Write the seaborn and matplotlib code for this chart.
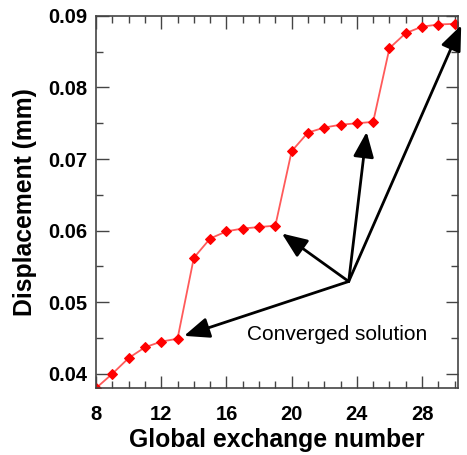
import numpy as np
import pandas as pd
import matplotlib
matplotlib.use("Agg")
import matplotlib.pyplot as plt
from matplotlib.ticker import MultipleLocator, FormatStrFormatter
import seaborn as sns

# global exchange number and displacement (mm)
exchange = [8, 9, 10, 11, 12, 13, 14, 15, 16, 17, 18, 19,
            20, 21, 22, 23, 24, 25, 26, 27, 28, 29, 30]
displacement = [0.0380, 0.0400, 0.0422, 0.0437, 0.0445, 0.0449, 0.0562, 0.0589,
                0.0599, 0.0603, 0.0605, 0.0607, 0.0711, 0.0737, 0.0744, 0.0748,
                0.0750, 0.0752, 0.0855, 0.0876, 0.0885, 0.0888, 0.0889]

# converged points the arrows point at
arrow_tips = [(13.4, 0.0453), (19.4, 0.0596), (24.6, 0.0738), (30.4, 0.0887)]
arrow_tail = (23.5, 0.0529)

df = pd.DataFrame({"x": exchange, "y": displacement})

sns.set_style("ticks")
plt.rcParams['font.family'] = ['Liberation Sans', 'DejaVu Sans']

fig = plt.figure(figsize=(4.67, 4.55), dpi=100)
ax = fig.add_axes([0.2056, 0.147, 0.775, 0.818])

sns.lineplot(data=df, x="x", y="y", ax=ax, color="#ff5a5a", linewidth=1.3,
             marker="D", markersize=5.5, markerfacecolor="red",
             markeredgecolor="red")

for tip in arrow_tips:
    ax.annotate("", xy=tip, xytext=arrow_tail,
                arrowprops=dict(arrowstyle="-|>,head_length=1.1,head_width=0.45",
                                mutation_scale=14, color="black", lw=2,
                                shrinkA=0, shrinkB=0),
                annotation_clip=False)
ax.text(22.8, 0.0455, "Converged solution", ha="center", va="center",
        fontsize=15, color="black")

ax.set_xlim(8, 30.2)
ax.set_ylim(0.038, 0.09)
ax.xaxis.set_major_locator(MultipleLocator(4))
ax.xaxis.set_minor_locator(MultipleLocator(1))
ax.yaxis.set_major_locator(MultipleLocator(0.01))
ax.yaxis.set_minor_locator(MultipleLocator(0.005))
ax.yaxis.set_major_formatter(FormatStrFormatter("%.2f"))
ax.tick_params(which="both", direction="in", top=True, right=True,
               color="#444444", width=1, labelcolor="black")
ax.tick_params(which="major", length=9, labelsize=14.5)
ax.tick_params(axis="y", which="major", pad=6)
ax.tick_params(axis="x", which="major", pad=12)
ax.tick_params(which="minor", length=5)
for lab in ax.get_xticklabels() + ax.get_yticklabels():
    lab.set_fontweight("bold")
for s in ax.spines.values():
    s.set_color("#444444")
    s.set_linewidth(1.2)

ax.set_xlabel("Global exchange number", fontsize=17.8, fontweight="bold",
              labelpad=3, color="black")
ax.set_ylabel("Displacement (mm)", fontsize=17.8, fontweight="bold",
              labelpad=8, color="black")

fig.savefig("out.png", dpi=100)
